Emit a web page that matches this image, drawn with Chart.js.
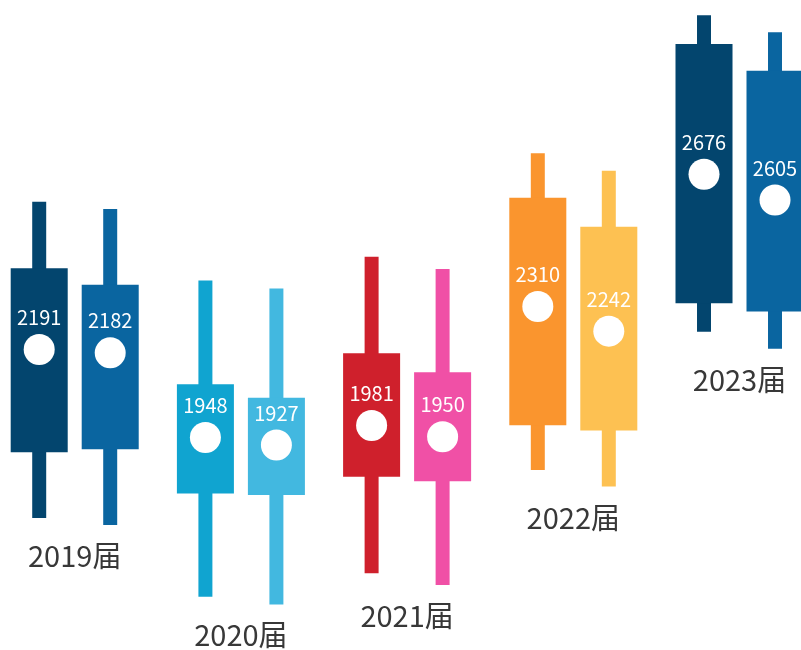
<!DOCTYPE html>
<html>
<head>
<meta charset="utf-8">
<script src="https://cdn.jsdelivr.net/npm/chart.js@4.4.1/dist/chart.umd.min.js"></script>
<style>
  html, body { margin: 0; padding: 0; background: #ffffff; overflow: hidden; }
  #wrap { position: relative; width: 801px; height: 650px; }
</style>
</head>
<body>
<div id="wrap"><canvas id="c"></canvas></div>
<script>
// ---- data ----
const categories   = ['2019届', '2020届', '2021届', '2022届', '2023届'];
const valuesA      = [2191, 1948, 1981, 2310, 2676];
const valuesB      = [2182, 1927, 1950, 2242, 2605];
const whiskerHighA = [2600, 2382, 2448, 2734, 3116];
const whiskerLowA  = [1725, 1507, 1572, 1858, 2240];
const boxHighA     = [2416, 2095, 2181, 2611, 3036];
const boxLowA      = [1907, 1793, 1839, 1982, 2319];
const whiskerHighB = [2580, 2360, 2414, 2686, 3069];
const whiskerLowB  = [1706, 1486, 1540, 1812, 2193];
const boxHighB     = [2370, 2058, 2128, 2531, 2962];
const boxLowB      = [1915, 1789, 1827, 1967, 2296];
const colorsA      = ['#03456e', '#10a4d0', '#cf202c', '#fa952e', '#03456e'];
const colorsB      = ['#0a65a0', '#42b8e0', '#f050a6', '#fdc152', '#0a65a0'];

// ---- layout / style constants ----
const FONT = '"Noto Sans CJK SC", "Noto Sans", sans-serif';
const catPct = 0.8544;              // share of each year's slot used by the pair
const pairOffset = catPct / 4;      // centre of each candle from the year centre (in slot units)

const range = (lo, hi) => categories.map((_, i) => ({ x: i, y: [lo[i], hi[i]] }));
const pts = (vals, sign) => vals.map((v, i) => ({ x: i + sign * pairOffset, y: v }));

const barCommon = { categoryPercentage: catPct, borderWidth: 0, borderSkipped: false };

const labelPlugin = {
  id: 'labels',
  afterDatasetsDraw(chart) {
    const ctx = chart.ctx;
    const xs = chart.scales.x, ys = chart.scales.y;
    ctx.save();
    // value labels above each white dot
    [4, 5].forEach(di => {
      const meta = chart.getDatasetMeta(di);
      const vals = chart.data.datasets[di].data;
      meta.data.forEach((el, i) => {
        ctx.fillStyle = '#ffffff';
        ctx.font = '20px ' + FONT;
        ctx.textAlign = 'center';
        ctx.textBaseline = 'middle';
        ctx.fillText(String(vals[i].y), el.x, el.y - 32);
      });
    });
    // year labels under each pair
    categories.forEach((c, i) => {
      const low = Math.min(whiskerLowA[i], whiskerLowB[i]);
      ctx.fillStyle = '#383838';
      ctx.font = '29px ' + FONT;
      ctx.textAlign = 'center';
      ctx.textBaseline = 'middle';
      ctx.fillText(c, xs.getPixelForValue(i), ys.getPixelForValue(low) + 31);
    });
    ctx.restore();
  }
};

new Chart(document.getElementById('c'), {
  type: 'bar',
  data: {
    datasets: [
      { ...barCommon, label: 'A-whisker', stack: 'A', order: 2, barPercentage: 0.197,
        data: range(whiskerLowA, whiskerHighA), backgroundColor: colorsA },
      { ...barCommon, label: 'A-box', stack: 'A', order: 1, barPercentage: 0.803,
        data: range(boxLowA, boxHighA), backgroundColor: colorsA },
      { ...barCommon, label: 'B-whisker', stack: 'B', order: 2, barPercentage: 0.197,
        data: range(whiskerLowB, whiskerHighB), backgroundColor: colorsB },
      { ...barCommon, label: 'B-box', stack: 'B', order: 1, barPercentage: 0.803,
        data: range(boxLowB, boxHighB), backgroundColor: colorsB },
      { type: 'scatter', label: 'A', order: 0, data: pts(valuesA, -1),
        pointRadius: 15.5, pointHoverRadius: 15.5, backgroundColor: '#ffffff', borderWidth: 0 },
      { type: 'scatter', label: 'B', order: 0, data: pts(valuesB, 1),
        pointRadius: 15.5, pointHoverRadius: 15.5, backgroundColor: '#ffffff', borderWidth: 0 }
    ]
  },
  options: {
    responsive: true,
    maintainAspectRatio: false,
    animation: false,
    layout: { padding: 0, autoPadding: false },
    plugins: { legend: { display: false }, tooltip: { enabled: false } },
    scales: {
      x: {
        type: 'linear', display: false, offset: false, min: -0.4495, max: 4.370,
        ticks: { stepSize: 1, includeBounds: false },
        afterBuildTicks: s => { s.ticks = categories.map((_, i) => ({ value: i })); }
      },
      y: { type: 'linear', display: false, offset: false, stacked: false, min: 1360, max: 3158 }
    }
  },
  plugins: [labelPlugin]
});
</script>
</body>
</html>
